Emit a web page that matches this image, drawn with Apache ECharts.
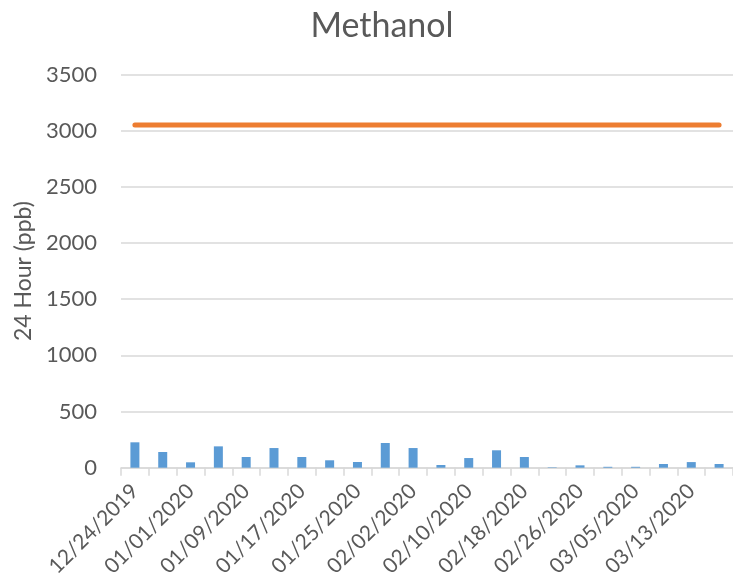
<!DOCTYPE html>
<html>
<head>
<meta charset="utf-8">
<script src="https://cdn.jsdelivr.net/npm/echarts@6/dist/echarts.min.js"></script>
<style>
  html, body { margin: 0; padding: 0; background: #fff; }
  #chart { width: 733px; height: 584px; }
</style>
</head>
<body>
<div id="chart"></div>
<script>
// sample dates, every 4 days
const dates = [
  '12/24/2019', '12/28/2019', '01/01/2020', '01/05/2020', '01/09/2020', '01/13/2020',
  '01/17/2020', '01/21/2020', '01/25/2020', '01/29/2020', '02/02/2020', '02/06/2020',
  '02/10/2020', '02/14/2020', '02/18/2020', '02/22/2020', '02/26/2020', '03/01/2020',
  '03/05/2020', '03/09/2020', '03/13/2020', '03/17/2020'
]
// measured 24 hour methanol (ppb)
const methanol = [226, 140, 48, 190, 95, 175, 95, 66, 51, 220, 175, 24,
  86, 155, 95, 4, 21, 8, 8, 33, 50, 33]
// screening level (ppb)
const screening = [3050, 3050, 3050, 3050, 3050, 3050, 3050, 3050, 3050, 3050, 3050, 3050,
  3050, 3050, 3050, 3050, 3050, 3050, 3050, 3050, 3050, 3050]

const textColor = '#595959'
const font = 'Lato'

const chart = echarts.init(document.getElementById('chart'))

chart.setOption({
  animation: false,
  title: {
    text: 'Methanol',
    left: 377,
    top: 4,
    textAlign: 'center',
    textStyle: { fontFamily: font, fontSize: 34, fontWeight: 'normal', color: textColor }
  },
  grid: { left: 121, right: -4, top: 74.5, bottom: 116.3 },
  xAxis: {
    type: 'category',
    data: dates,
    boundaryGap: true,
    axisLine: { lineStyle: { color: '#d9d9d9', width: 1.5 } },
    axisTick: { show: true, interval: 0, length: 8, lineStyle: { color: '#d9d9d9', width: 1.5 } },
    axisLabel: {
      interval: 1,
      rotate: 45,
      margin: 20,
      fontFamily: font,
      fontSize: 21,
      color: textColor
    }
  },
  yAxis: {
    type: 'value',
    min: 0,
    max: 3500,
    interval: 500,
    name: '24 Hour (ppb)',
    nameLocation: 'middle',
    nameGap: 80,
    nameTextStyle: { fontFamily: font, fontSize: 23, color: textColor },
    axisLine: { show: false },
    axisTick: { show: false },
    axisLabel: {
      margin: 24,
      fontFamily: font,
      fontSize: 22,
      color: textColor,
      formatter: v => String(v)
    },
    splitLine: { lineStyle: { color: '#d9d9d9', width: 1.5 } }
  },
  series: [
    {
      name: 'Methanol',
      type: 'bar',
      data: methanol,
      barWidth: 9,
      itemStyle: { color: '#5B9BD5' }
    },
    {
      name: 'Screening Level',
      type: 'line',
      data: screening,
      symbol: 'none',
      z: 3,
      lineStyle: { color: '#ED7D31', width: 5, cap: 'round' }
    }
  ]
})
</script>
</body>
</html>
